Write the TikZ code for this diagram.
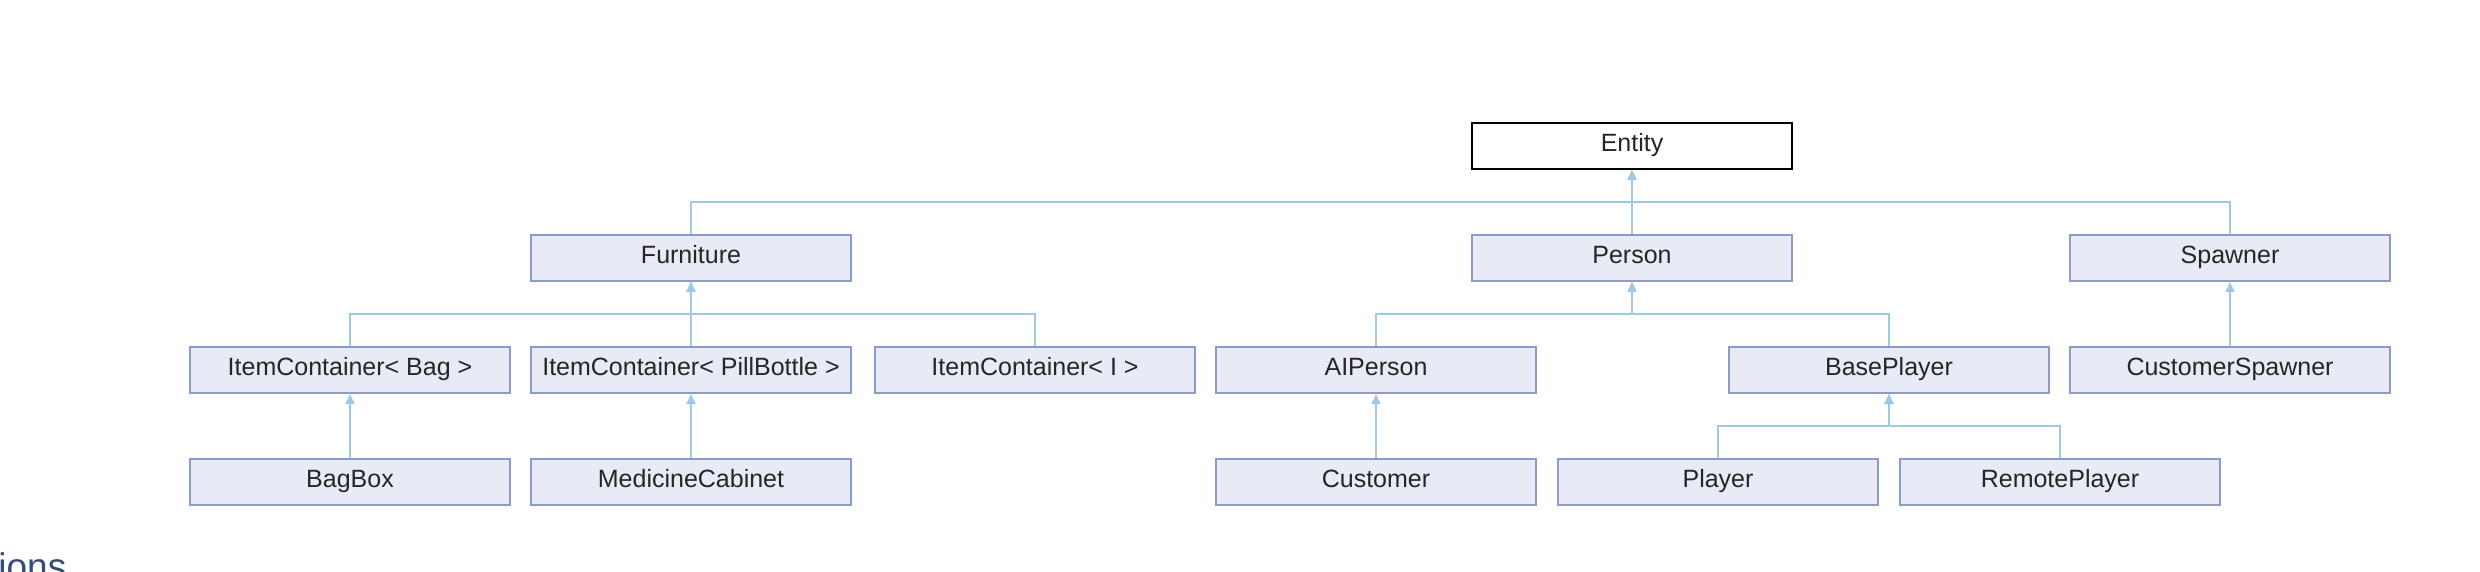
\documentclass[tikz,border=0pt]{standalone}
\usepackage{fontspec}
\setmainfont{Liberation Sans}
\usetikzlibrary{arrows.meta}

\definecolor{boxfill}{RGB}{232,235,245}
\definecolor{boxline}{RGB}{140,156,200}
\definecolor{edgeblue}{RGB}{158,202,232}
\definecolor{headblue}{RGB}{53,76,123}

\begin{document}
\begin{tikzpicture}[x=0.5pt, y=-0.5pt,
	cls/.style={rectangle, minimum width=160pt, minimum height=23pt, inner sep=0pt,
		text height=0.72em, text depth=0.2em, text=black!85,
		draw=boxline, fill=boxfill, line width=1pt, font=\fontsize{12.5}{14}\selectfont},
	inh/.style={draw=edgeblue, line width=1pt, -{Triangle[length=5pt,width=4.5pt]}}]
	\useasboundingbox (0,0) rectangle (2480,572);
	% top
	\node[cls, fill=white, draw=black] (ent) at (1632,146) {Entity};
	% second row
	\node[cls] (furn) at (691,258) {Furniture};
	\node[cls] (pers) at (1632,258) {Person};
	\node[cls] (spwn) at (2230,258) {Spawner};
	% third row
	\node[cls] (icbag) at (350,370) {ItemContainer< Bag >};
	\node[cls] (icpill) at (691,370) {ItemContainer< PillBottle >};
	\node[cls] (ici) at (1035,370) {ItemContainer< I >};
	\node[cls] (aip) at (1376,370) {AIPerson};
	\node[cls] (bplay) at (1889,370) {BasePlayer};
	\node[cls] (cspwn) at (2230,370) {CustomerSpawner};
	% bottom row
	\node[cls] (bagbox) at (350,482) {BagBox};
	\node[cls] (medcab) at (691,482) {MedicineCabinet};
	\node[cls] (cust) at (1376,482) {Customer};
	\node[cls] (play) at (1718,482) {Player};
	\node[cls] (rplay) at (2060,482) {RemotePlayer};
	% inheritance
	\draw[inh] (furn.north) -- ++(0,-32) -| (ent.south);
	\draw[inh] (spwn.north) -- ++(0,-32) -| (ent.south);
	\draw[inh] (pers.north) -- (ent.south);
	\draw[inh] (icbag.north) -- ++(0,-32) -| (furn.south);
	\draw[inh] (ici.north) -- ++(0,-32) -| (furn.south);
	\draw[inh] (icpill.north) -- (furn.south);
	\draw[inh] (aip.north) -- ++(0,-32) -| (pers.south);
	\draw[inh] (bplay.north) -- ++(0,-32) -| (pers.south);
	\draw[inh] (cspwn.north) -- (spwn.south);
	\draw[inh] (bagbox.north) -- (icbag.south);
	\draw[inh] (medcab.north) -- (icpill.south);
	\draw[inh] (cust.north) -- (aip.south);
	\draw[inh] (play.north) -- ++(0,-32) -| (bplay.south);
	\draw[inh] (rplay.north) -- ++(0,-32) -| (bplay.south);
	% heading cut off below
	\node[anchor=base west, inner sep=0pt, text=headblue, font=\fontsize{18.5}{20}\selectfont] (hdr) at (-2,579) {ions};
\end{tikzpicture}
\end{document}
